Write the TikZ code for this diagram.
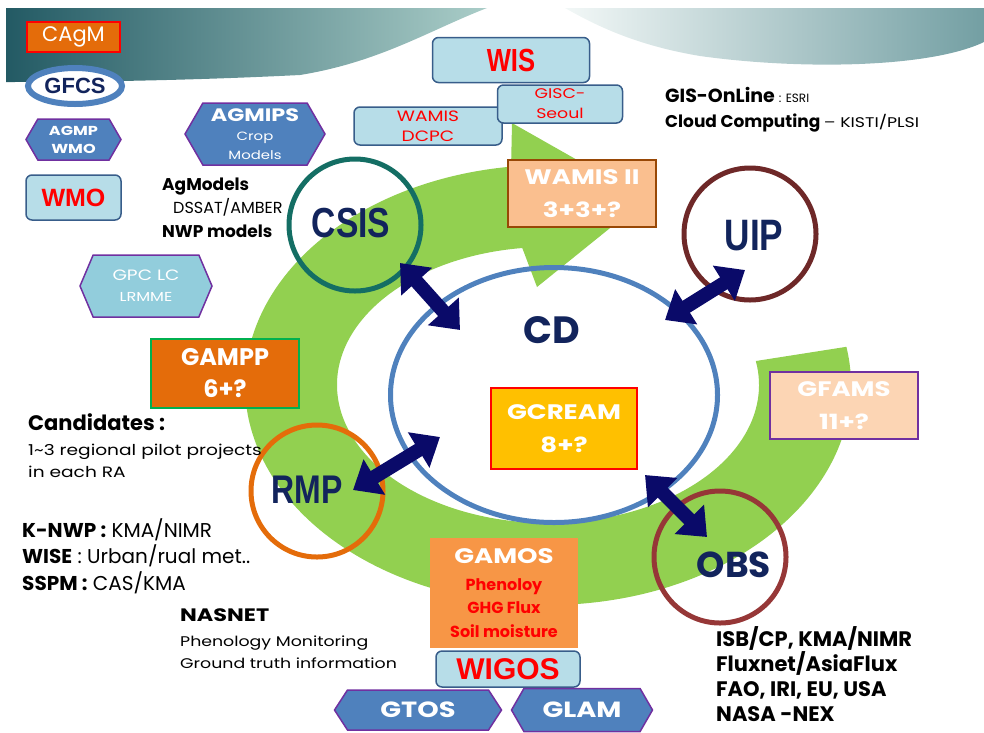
\documentclass[tikz,border=0pt]{standalone}
\usepackage{fontspec}
\setmainfont{Poppins}
\newfontfamily\narrowfont[FakeStretch=0.8]{Liberation Sans}
\newfontfamily\arialfont{Liberation Sans}
\newfontfamily\widefont[FakeStretch=1.24]{Poppins}
\usetikzlibrary{arrows.meta,shapes.geometric,shapes.symbols}

\definecolor{ringgreen}{RGB}{146,208,80}
\definecolor{cdblue}{RGB}{79,129,189}
\definecolor{arrnavy}{RGB}{10,10,105}
\definecolor{txtnavy}{RGB}{18,36,92}
\definecolor{csisteal}{RGB}{20,110,100}
\definecolor{uipbrown}{RGB}{110,40,40}
\definecolor{rmporange}{RGB}{228,108,10}
\definecolor{obsred}{RGB}{150,55,55}
\definecolor{boxorange}{RGB}{228,108,10}
\definecolor{gamosorange}{RGB}{247,150,70}
\definecolor{gcreamyellow}{RGB}{255,192,0}
\definecolor{wamispeach}{RGB}{250,191,143}
\definecolor{wamisline}{RGB}{152,72,6}
\definecolor{gfamspeach}{RGB}{252,213,180}
\definecolor{hexpurple}{RGB}{112,48,160}
\definecolor{hexblue}{RGB}{79,129,189}
\definecolor{hexlight}{RGB}{146,205,220}
\definecolor{lightbox}{RGB}{183,221,232}
\definecolor{lightline}{RGB}{56,93,138}
\definecolor{gampline}{RGB}{0,176,80}
\definecolor{banL}{RGB}{35,90,100}
\definecolor{banM}{RGB}{80,135,140}
\definecolor{banR}{RGB}{170,205,200}

\newcommand{\fsz}[2]{\fontsize{#1}{#2}\selectfont}

\begin{document}
\begin{tikzpicture}[x=1pt, y=-1pt,
    ringnode/.style={circle, draw, line width=5pt, minimum size=132pt, inner sep=0pt},
    dblarrow/.style={draw=arrnavy, line width=14pt,
      {Triangle[width=40pt,length=25pt]}-{Triangle[width=40pt,length=25pt]}},
    hexnode/.style={signal, signal to=west and east, signal pointer angle=120,
      draw=hexpurple, line width=1.5pt, fill=hexblue, text=white, align=center, inner sep=0pt},
    lightnode/.style={draw=lightline, line width=1.5pt, rounded corners=6pt,
      fill=lightbox, text=red, align=center, inner sep=0pt},
    plainbox/.style={line width=1.5pt, align=center, text=white, inner sep=0pt},
    circtxt/.style={text=txtnavy, inner sep=0pt},
    note/.style={anchor=base west, inner sep=0pt, text=black}]

    \useasboundingbox (0,0) rectangle (984,732);

    % 1. 顶部横幅
    \shade[left color=banL, middle color=banM, right color=banR]
      (6,8) -- (487,8) .. controls (430,30) and (380,62) .. (300,75)
      .. controls (200,80) and (100,82) .. (6,82) -- cycle;
    \shade[left color=white!85!banR, right color=banM!80!white]
      (565,8) -- (984,8) -- (984,42) .. controls (930,68) and (800,70) .. (700,56)
      .. controls (640,46) and (600,28) .. (565,8) -- cycle;

    % 2. 绿色环形箭头
    \fill[ringgreen] (846.4,346.8)
      arc[start angle=10, end angle=-263, x radius=303pt, y radius=220pt]
      -- (512,123) -- (646,199) -- (537,287) -- (522.3,248)
      arc[start angle=-263, end angle=10, x radius=211pt, y radius=138pt] -- cycle;

    % 3. 中间椭圆 CD
    \node[ellipse, draw=cdblue, line width=5pt, minimum width=327pt, minimum height=255pt] (cd) at (554,395) {};
    \node[circtxt, font=\bfseries\fsz{38}{38}] (cdtxt) at (552,330) {CD};

    % 4. 四个圆
    \node[ringnode, draw=csisteal] (csis) at (355,225) {};
    \node[ringnode, draw=uipbrown] (uip) at (750,234) {};
    \node[ringnode, draw=rmporange] (rmp) at (317,491) {};
    \node[ringnode, draw=obsred] (obs) at (720,557) {};
    \node[circtxt, font=\narrowfont\bfseries\fsz{42}{42}] (csistxt) at (351,223) {CSIS};
    \node[circtxt, font=\narrowfont\bfseries\fsz{44}{44}] (uiptxt) at (754,236) {UIP};
    \node[circtxt, font=\narrowfont\bfseries\fsz{40}{40}] (rmptxt) at (307,490) {RMP};
    \node[circtxt, font=\bfseries\fsz{36}{36}] (obstxt) at (734,565) {OBS};

    % 5. 双向箭头
    \coordinate (csisA) at (400,263);
    \coordinate (cdA) at (460,330);
    \coordinate (uipA) at (745,270);
    \coordinate (cdB) at (665,320);
    \coordinate (rmpA) at (353,490);
    \coordinate (cdC) at (440,437);
    \coordinate (obsA) at (707,537);
    \coordinate (cdD) at (645,475);
    \draw[dblarrow] (csisA) -- (cdA);
    \draw[dblarrow] (uipA) -- (cdB);
    \draw[dblarrow] (rmpA) -- (cdC);
    \draw[dblarrow] (obsA) -- (cdD);

    % 6. 左上角
    \node[plainbox, draw=red, fill=boxorange, minimum width=93pt, minimum height=30pt,
      font=\fsz{21}{21}] (cagm) at (73.5,37) {CAgM};
    \node[ellipse, draw=cdblue, line width=6pt, fill=white, minimum width=94pt, minimum height=36pt,
      text=txtnavy, font=\arialfont\bfseries\fsz{22}{22}, inner sep=0pt] (gfcs) at (75,86) {GFCS};
    \node[hexnode, minimum width=95pt, minimum height=41pt, font=\widefont\bfseries\fsz{13}{18}] (agmp) at (73.5,139.5) {AGMP\\WMO};
    \node[lightnode, minimum width=95pt, minimum height=45pt, font=\arialfont\bfseries\fsz{25}{25}] (wmo) at (73.5,197.5) {WMO};
    \node[hexnode, minimum width=140pt, minimum height=62pt, font=\widefont\fsz{12}{19}] (agmips) at (255,134)
      {{\bfseries\fsz{18}{22}AGMIPS}\\Crop\\Models};
    \node[note, font=\bfseries\fsz{17}{17}] (agmod) at (162,190) {AgModels};
    \node[note, font=\fsz{16}{16}] (dssat) at (173,213) {DSSAT/AMBER};
    \node[note, font=\bfseries\fsz{17}{17}] (nwp) at (162,237) {NWP models};
    \node[hexnode, fill=hexlight, signal pointer angle=134, minimum width=132pt, minimum height=62pt,
      font=\widefont\fsz{15}{21}] (gpc) at (146,286) {GPC LC\\{\fsz{13}{21}LRMME}};

    % 7. 上方 WIS
    \node[lightnode, minimum width=148pt, minimum height=38pt, font=\widefont\fsz{15}{20}] (dcpc) at (428,126) {WAMIS\\DCPC};
    \node[lightnode, minimum width=157pt, minimum height=45pt, font=\narrowfont\bfseries\fsz{32}{32}] (wis) at (511,60) {WIS};
    \node[lightnode, minimum width=125pt, minimum height=38pt, font=\widefont\fsz{14}{20}] (gisc) at (560,104) {GISC-\\Seoul};
    \node[note, font=\bfseries\fsz{19}{19}] (gis) at (665,102) {GIS-OnLine {\mdseries\fsz{12}{12}: ESRI}};
    \node[note, font=\bfseries\fsz{17}{17}] (cloud) at (665,127) {Cloud Computing {\mdseries\widefont\fsz{14}{14}– KISTI/PLSI}};

    % 8. 项目方框
    \node[plainbox, draw=wamisline, fill=wamispeach, minimum width=148pt, minimum height=67pt,
      font=\widefont\bfseries\fsz{21}{33}] (wamis) at (582,193.5) {WAMIS II\\3+3+?};
    \node[plainbox, draw=gampline, fill=boxorange, minimum width=148pt, minimum height=69pt,
      font=\bfseries\fsz{24}{32}] (gampp) at (225,373.5) {GAMPP\\6+?};
    \node[plainbox, draw=red, fill=gcreamyellow, minimum width=146pt, minimum height=81pt,
      font=\widefont\bfseries\fsz{21}{33}] (gcream) at (564,428.5) {GCREAM\\8+?};
    \node[plainbox, draw=hexpurple, fill=gfamspeach, minimum width=148pt, minimum height=67pt,
      font=\widefont\bfseries\fsz{21}{33}] (gfams) at (844,405.5) {GFAMS\\11+?};
    \node[plainbox, fill=gamosorange, minimum width=148pt, minimum height=110pt, text=red,
      font=\bfseries\fsz{16}{23.5}] (gamos) at (504,593)
      {{\color{white}\widefont\fsz{21}{23.5}GAMOS}\\[3pt]Phenoloy\\GHG Flux\\Soil moisture};
    \node[lightnode, minimum width=144pt, minimum height=36pt, font=\arialfont\bfseries\fsz{30}{30}] (wigos) at (508,669) {WIGOS};
    \node[hexnode, signal pointer angle=114, minimum width=167pt, minimum height=40pt, font=\widefont\bfseries\fsz{22}{22}] (gtos) at (418,710) {GTOS};
    \node[hexnode, minimum width=141pt, minimum height=43pt, font=\widefont\bfseries\fsz{22}{22}] (glam) at (582,710) {GLAM};

    % 9. 左侧说明文字
    \node[note, font=\bfseries\fsz{21}{21}] (cand) at (28,430) {Candidates :};
    \node[note, font=\widefont\fsz{15}{15}] (cand1) at (28,455) {1\textasciitilde3 regional pilot projects};
    \node[note, font=\widefont\fsz{15}{15}] (cand2) at (28,477) {in each RA};
    \node[note, font=\fsz{20}{20}] (knwp) at (22,537) {\textbf{K-NWP :} KMA/NIMR};
    \node[note, font=\fsz{20}{20}] (wise) at (22,563) {\textbf{WISE} : Urban/rual met..};
    \node[note, font=\fsz{20}{20}] (sspm) at (22,590) {\textbf{SSPM :} CAS/KMA};
    \node[note, font=\widefont\bfseries\fsz{18}{18}] (nasnet) at (180,621) {NASNET};
    \node[note, font=\widefont\fsz{14}{14}] (pheno) at (180,646) {Phenology  Monitoring};
    \node[note, font=\widefont\fsz{14}{14}] (ground) at (180,668) {Ground  truth information};

    % 10. 右下说明文字
    \node[note, font=\bfseries\fsz{21}{21}] (isb) at (716,646) {ISB/CP, KMA/NIMR};
    \node[note, font=\bfseries\fsz{21}{21}] (flux) at (716,671) {Fluxnet/AsiaFlux};
    \node[note, font=\bfseries\fsz{21}{21}] (fao) at (716,696) {FAO, IRI, EU, USA};
    \node[note, font=\bfseries\fsz{21}{21}] (nasa) at (716,721) {NASA -NEX};

  \end{tikzpicture}
\end{document}
